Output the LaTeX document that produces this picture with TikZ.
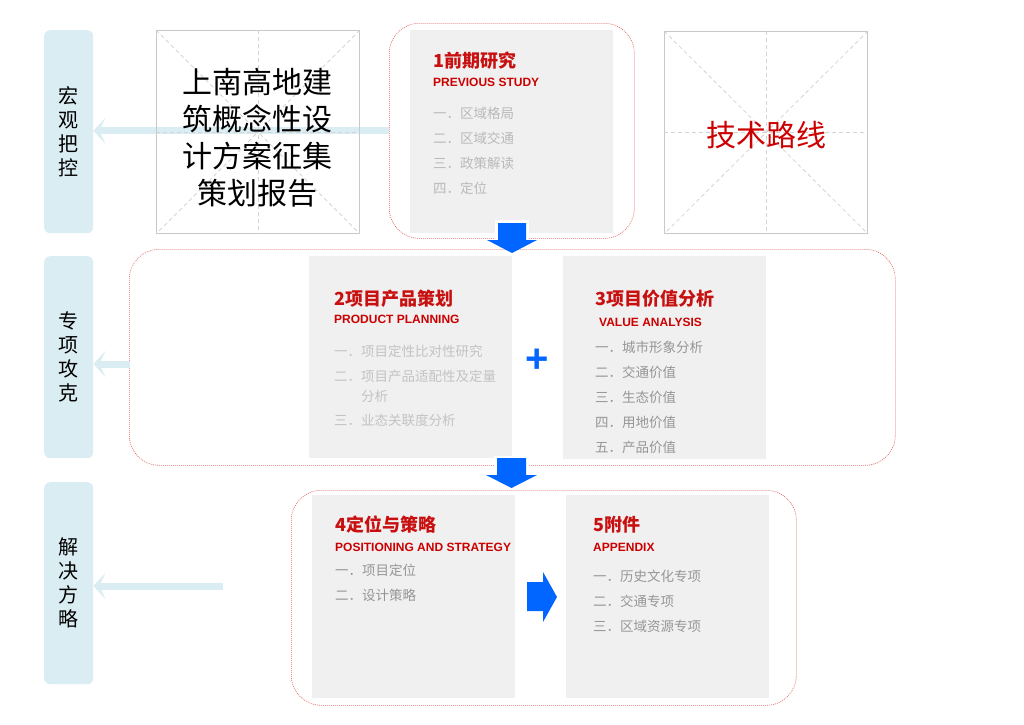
\documentclass[tikz,border=0pt]{standalone}
\usepackage{fontspec}
\setmainfont{Liberation Sans}
\newfontfamily\cjk{Noto Sans CJK SC}
\newfontfamily\arial{Liberation Sans}
\usetikzlibrary{arrows.meta}
\definecolor{labelblue}{RGB}{218,237,243}
\definecolor{arrowblue}{RGB}{0,102,255}
\definecolor{boxgray}{RGB}{240,240,240}
\definecolor{titlered}{RGB}{200,16,16}
\definecolor{subred}{RGB}{204,0,0}
\definecolor{dashred}{RGB}{228,100,100}
\definecolor{phborder}{RGB}{200,200,200}
\definecolor{phdash}{RGB}{212,212,212}
\definecolor{itemA}{RGB}{185,185,185}
\definecolor{itemB}{RGB}{195,195,195}
\definecolor{itemC}{RGB}{150,150,150}
\begin{document}
\begin{tikzpicture}[x=1pt,y=-1pt,
  lab/.style={fill=labelblue, rounded corners=6pt, minimum width=49pt, anchor=north west, inner sep=0pt, align=center, font=\cjk\fontsize{20}{24}\selectfont},
  dashbox/.style={draw=dashred, line width=0.6pt, dash pattern=on 1pt off 1pt, rounded corners=30pt, anchor=north west, inner sep=0pt},
  graybox/.style={fill=boxgray, anchor=north west, inner sep=0pt, minimum width=203pt},
  phbox/.style={draw=phborder, line width=1pt, anchor=north west, inner sep=0pt, minimum width=203pt},
  phline/.style={draw=phdash, line width=0.8pt, dash pattern=on 4pt off 3pt},
  ttl/.style={anchor=base west, inner sep=0pt, text=titlered, font=\cjk\bfseries\fontsize{18}{20}\selectfont},
  sub/.style={anchor=base west, inner sep=0pt, text=subred, font=\arial\bfseries\fontsize{12}{14}\selectfont},
  item/.style={anchor=base west, inner sep=0pt, font=\cjk\fontsize{13.5}{16}\selectfont},
  lbarrow/.style={draw=labelblue, line width=7pt, -{Stealth[length=12pt,width=26pt,inset=6pt,line width=0pt]}},
  blockarrow/.style={fill=arrowblue}
]
\useasboundingbox (0,0) rectangle (1024,724);
\fill[white] (0,0) rectangle (1024,724);

% left labels
\node[lab, minimum height=203pt] (lab1) at (44,30) {宏\\观\\把\\控};
\node[lab, minimum height=202pt] (lab2) at (44,256) {专\\项\\攻\\克};
\node[lab, minimum height=202pt] (lab3) at (44,482) {解\\决\\方\\略};

% dashed groups
\node[dashbox, minimum width=245pt, minimum height=215pt] (d1) at (389,23) {};
\node[dashbox, minimum width=766pt, minimum height=216pt] (d2) at (129,249) {};
\node[dashbox, minimum width=505pt, minimum height=215pt] (d3) at (291,490) {};

% light blue arrows to labels
\draw[lbarrow] (d1.west) -- (d1.west -| lab1.east);
\coordinate (c2) at (130,364);
\draw[lbarrow] (c2) -- (c2 -| lab2.east);
\coordinate (c3) at (223,586);
\draw[lbarrow] (c3) -- (c3 -| lab3.east);

% placeholder 1
\node[phbox, minimum height=203pt] (ph1) at (156,30) {};
\draw[phline] (ph1.north west) -- (ph1.south east);
\draw[phline] (ph1.north east) -- (ph1.south west);
\draw[phline] (ph1.north) -- (ph1.south);
\draw[phline] (ph1.west) -- (ph1.east);
\node[align=center, inner sep=0pt, font=\cjk\fontsize{30}{37}\selectfont] (ph1t) at (257.5,138) {上南高地建\\筑概念性设\\计方案征集\\策划报告};

% placeholder 2
\node[phbox, minimum height=202pt] (ph2) at (664,31) {};
\draw[phline] (ph2.north west) -- (ph2.south east);
\draw[phline] (ph2.north east) -- (ph2.south west);
\draw[phline] (ph2.north) -- (ph2.south);
\draw[phline] (ph2.west) -- (ph2.east);
\node[inner sep=0pt, text=subred, font=\cjk\fontsize{30}{36}\selectfont] (ph2t) at (766,135) {技术路线};

% gray boxes
\node[graybox, minimum height=203pt] (g1) at (410,30) {};
\node[graybox, minimum height=202pt] (g2) at (309,256) {};
\node[graybox, minimum height=203pt] (g3) at (563,256) {};
\node[graybox, minimum height=203pt] (g4) at (312,495) {};
\node[graybox, minimum height=203pt] (g5) at (566,495) {};

% box 1
\node[ttl] (t1) at (433,67) {1前期研究};
\node[sub] (s1) at (433,86) {PREVIOUS STUDY};
\node[item, text=itemA] (i11) at (433,118) {一．区域格局};
\node[item, text=itemA] (i12) at (433,143) {二．区域交通};
\node[item, text=itemA] (i13) at (433,168) {三．政策解读};
\node[item, text=itemA] (i14) at (433,193) {四．定位};

% box 2
\node[ttl] (t2) at (334,305) {2项目产品策划};
\node[sub] (s2) at (334,323) {PRODUCT PLANNING};
\node[item, text=itemB] (i21) at (334,356) {一．项目定性比对性研究};
\node[item, text=itemB] (i22) at (334,381) {二．项目产品适配性及定量};
\node[item, text=itemB] (i22b) at (361,401) {分析};
\node[item, text=itemB] (i23) at (334,425) {三．业态关联度分析};

% box 3
\node[ttl] (t3) at (595,305) {3项目价值分析};
\node[sub] (s3) at (599,326) {VALUE ANALYSIS};
\node[item, text=itemC] (i31) at (595,352) {一．城市形象分析};
\node[item, text=itemC] (i32) at (595,377) {二．交通价值};
\node[item, text=itemC] (i33) at (595,402) {三．生态价值};
\node[item, text=itemC] (i34) at (595,427) {四．用地价值};
\node[item, text=itemC] (i35) at (595,452) {五．产品价值};

% box 4
\node[ttl] (t4) at (335,531) {4定位与策略};
\node[sub] (s4) at (335,551) {POSITIONING AND STRATEGY};
\node[item, text=itemC] (i41) at (335,575) {一．项目定位};
\node[item, text=itemC] (i42) at (335,600) {二．设计策略};

% box 5
\node[ttl] (t5) at (593,531) {5附件};
\node[sub] (s5) at (593,551) {APPENDIX};
\node[item, text=itemC] (i51) at (593,581) {一．历史文化专项};
\node[item, text=itemC] (i52) at (593,606) {二．交通专项};
\node[item, text=itemC] (i53) at (593,631) {三．区域资源专项};

% plus
\node[inner sep=0pt, text=arrowblue, font=\arial\bfseries\fontsize{40}{40}\selectfont] (plus) at (537,361) {+};

% block arrows
\fill[white] (495,220) rectangle (529,240);
\fill[blockarrow] (498,223) -- (526,223) -- (526,240) -- (537,240) -- (512,253) -- (487,240) -- (498,240) -- cycle;
\fill[white] (494,456) rectangle (529,475);
\fill[blockarrow] (497,458) -- (526,458) -- (526,475) -- (537,475) -- (511.5,488) -- (486,475) -- (497,475) -- cycle;
\fill[blockarrow] (527,582) -- (543,582) -- (543,572) -- (557,597) -- (543,622) -- (543,611) -- (527,611) -- cycle;
\end{tikzpicture}
\end{document}
